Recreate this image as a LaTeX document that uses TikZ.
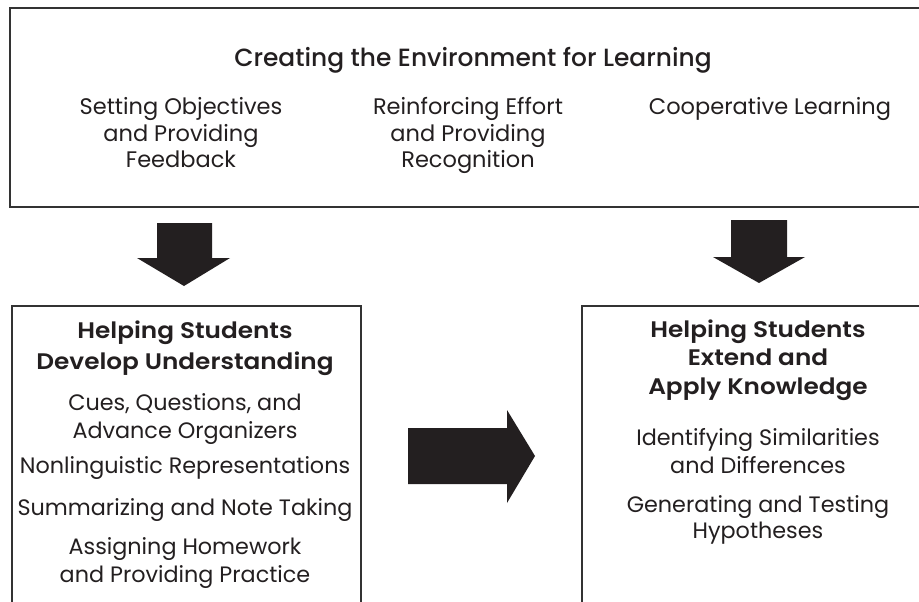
\documentclass[tikz,border=0pt]{standalone}
\usepackage{fontspec}
\setmainfont{Poppins}
\newfontfamily\topfont{Poppins}
\newfontfamily\toptitlefont{Poppins Medium}
\newfontfamily\titlefont[FakeStretch=1.1]{Poppins SemiBold}
\definecolor{ink}{HTML}{231F20}
\definecolor{frame}{HTML}{333333}
\tikzset{
  boxframe/.style={draw=frame, line width=1.3pt},
  blockarrow/.style={fill=ink, draw=none},
  toptitle/.style={anchor=base, text=ink, inner sep=0pt, font=\toptitlefont\fontsize{24.9}{28}\selectfont},
  topitem/.style={anchor=base, text=ink, inner sep=0pt, font=\topfont\fontsize{22.5}{27}\selectfont},
  boxtitle/.style={anchor=base, text=ink, inner sep=0pt, font=\titlefont\fontsize{22.5}{26}\selectfont},
  boxitem/.style={anchor=base, text=ink, inner sep=0pt, font=\fontsize{22.3}{27}\selectfont},
}
\begin{document}
\begin{tikzpicture}[x=1pt, y=-1pt]
\useasboundingbox (0,0) rectangle (919,602);
\clip (0,0) rectangle (919,602);
\fill[white] (0,0) rectangle (919,602);
% boxes
\draw[boxframe] (10,8) rectangle (940,207);
\draw[boxframe] (12,306) rectangle (361,640);
\draw[boxframe] (582,306) rectangle (940,640);
% top box text
\node[toptitle] (t0) at (473,66.5) {Creating the Environment for Learning};
\node[topitem] (t1a) at (181,114) {Setting Objectives};
\node[topitem] (t1b) at (181,141) {and Providing};
\node[topitem] (t1c) at (181,167) {Feedback};
\node[topitem] (t2a) at (468,114) {Reinforcing Effort};
\node[topitem] (t2b) at (468,141) {and Providing};
\node[topitem] (t2c) at (468,167) {Recognition};
\node[topitem] (t3a) at (770,114) {Cooperative Learning};
% left box text
\node[boxtitle] (l0a) at (185,338) {Helping Students};
\node[boxtitle] (l0b) at (185,369) {Develop Understanding};
\node[boxitem] (l1a) at (185,410) {Cues, Questions, and};
\node[boxitem] (l1b) at (185,438) {Advance Organizers};
\node[boxitem] (l2) at (185,473) {Nonlinguistic Representations};
\node[boxitem] (l3) at (185,515) {Summarizing and Note Taking};
\node[boxitem] (l4a) at (185,554) {Assigning Homework};
\node[boxitem] (l4b) at (185,582) {and Providing Practice};
% right box text
\node[boxtitle] (r0a) at (758,337) {Helping Students};
\node[boxtitle] (r0b) at (758,365) {Extend and};
\node[boxtitle] (r0c) at (758,394) {Apply Knowledge};
\node[boxitem] (r1a) at (758,445) {Identifying Similarities};
\node[boxitem] (r1b) at (758,473) {and Differences};
\node[boxitem] (r2a) at (758,512) {Generating and Testing};
\node[boxitem] (r2b) at (758,538) {Hypotheses};
% block arrows
\fill[blockarrow] (157,223) -- (212,223) -- (212,258) -- (230,258) -- (184,286) -- (137,258) -- (157,258) -- cycle;
\fill[blockarrow] (731,220) -- (787,220) -- (787,257) -- (805,257) -- (759,283) -- (713,257) -- (731,257) -- cycle;
\fill[blockarrow] (408,428) -- (507,428) -- (507,410) -- (535,456) -- (507,503) -- (507,484) -- (408,484) -- cycle;
\end{tikzpicture}
\end{document}
